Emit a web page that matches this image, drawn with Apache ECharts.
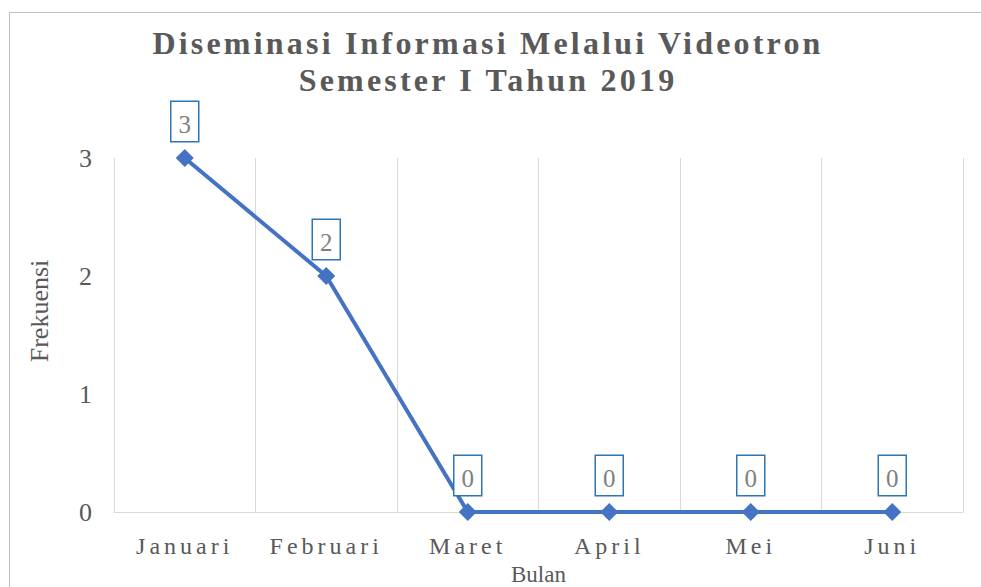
<!DOCTYPE html>
<html>
<head>
<meta charset="utf-8">
<script src="https://cdn.jsdelivr.net/npm/echarts@6/dist/echarts.min.js"></script>
<style>
  html, body { margin: 0; padding: 0; background: #fff; }
  #chart { width: 981px; height: 587px; }
  #chart text { font-family: 'Liberation Serif', serif !important; }
  /* Excel-style spaced lettering for the title and month labels */
  #chart text[style*="32px"] { letter-spacing: 3.2px; }
  #chart text[style*="24px"] { letter-spacing: 4px; }
</style>
</head>
<body>
<div id="chart"></div>
<script>
var bulan = ['Januari', 'Februari', 'Maret', 'April', 'Mei', 'Juni'];
var frekuensi = [3, 2, 0, 0, 0, 0];
var yTicks = [0, 1, 2, 3];

var myChart = echarts.init(document.getElementById('chart'), null, { renderer: 'svg' });
var serif = 'Liberation Serif';

var option = {
  animation: false,
  backgroundColor: '#fff',
  textStyle: { fontFamily: serif },
  title: {
    text: 'Diseminasi Informasi Melalui Videotron\nSemester I Tahun 2019',
    left: 483,
    top: 19,
    textAlign: 'center',
    textStyle: {
      fontFamily: serif,
      fontWeight: 'bold',
      fontSize: 32,
      lineHeight: 37,
      color: '#595959'
    }
  },
  graphic: [{
    type: 'rect',
    shape: { x: 9.5, y: 12.5, width: 1000, height: 600 },
    style: { fill: 'none', stroke: '#bfbfbf', lineWidth: 1 },
    silent: true
  }],
  grid: { left: 114, right: 18, top: 158, bottom: 75, outerBoundsMode: 'none' },
  xAxis: {
    type: 'category',
    data: bulan,
    boundaryGap: true,
    name: 'Bulan',
    nameLocation: 'middle',
    nameGap: 47,
    nameTextStyle: { fontFamily: serif, fontSize: 23, color: '#595959' },
    axisLine: { lineStyle: { color: '#d9d9d9', width: 1 } },
    axisTick: { show: false },
    axisLabel: { fontFamily: serif, fontSize: 24, color: '#595959', margin: 22 },
    splitLine: { show: true, lineStyle: { color: '#d9d9d9', width: 1 } }
  },
  yAxis: {
    type: 'value',
    min: yTicks[0],
    max: yTicks[yTicks.length - 1],
    interval: 1,
    name: 'Frekuensi',
    nameLocation: 'middle',
    nameGap: 62,
    nameTextStyle: { fontFamily: serif, fontSize: 26, color: '#595959', padding: [0, 0, 0, 48] },
    axisLine: { show: false },
    axisTick: { show: false },
    axisLabel: { fontFamily: serif, fontSize: 26, color: '#595959', margin: 22 },
    splitLine: { show: false }
  },
  series: [{
    type: 'line',
    data: frekuensi,
    symbol: 'diamond',
    symbolSize: 18,
    itemStyle: { color: '#4472c4' },
    lineStyle: { color: '#4472c4', width: 4 },
    label: {
      show: true,
      position: 'top',
      distance: 8,
      fontFamily: serif,
      fontSize: 25,
      lineHeight: 25,
      color: '#808080',
      borderColor: '#2e75b6',
      borderWidth: 1.5,
      backgroundColor: '#fff',
      padding: [10, 7, 4, 7]
    }
  }]
};

myChart.setOption(option);
</script>
</body>
</html>
